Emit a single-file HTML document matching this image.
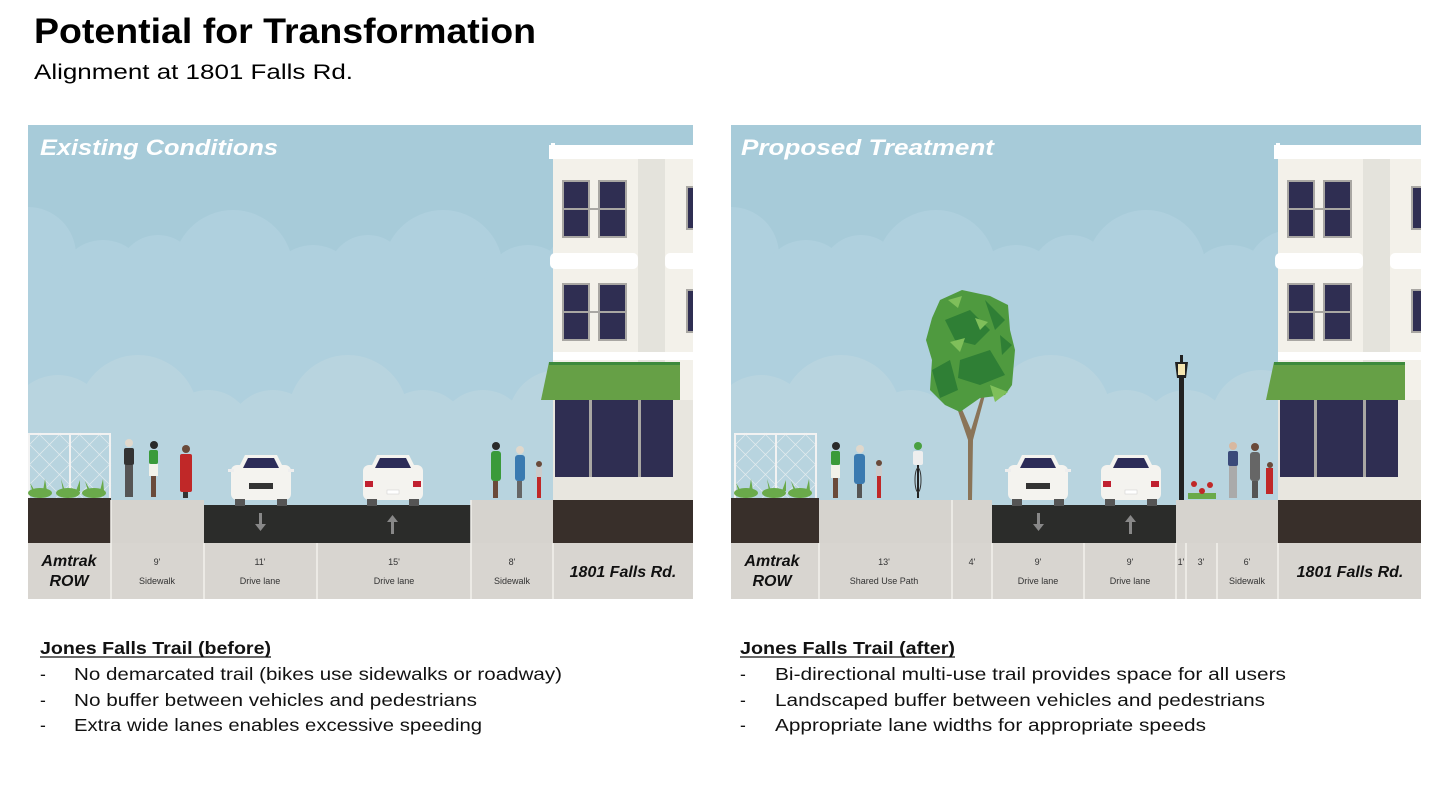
<!DOCTYPE html>
<html><head><meta charset="utf-8"><style>
html,body{margin:0;padding:0;background:#fff;width:1439px;height:802px;overflow:hidden;font-family:"Liberation Sans",sans-serif}
</style></head><body>
<svg width="1439" height="802" viewBox="0 0 1439 802" xmlns="http://www.w3.org/2000/svg" font-family="Liberation Sans, sans-serif">
<defs>
<clipPath id="c1"><rect x="28" y="125" width="665" height="474"/></clipPath>
<clipPath id="c2"><rect x="731" y="125" width="690" height="474"/></clipPath>
<g id="sky">
 <rect x="0" y="0" width="700" height="380" fill="#a7cbd9"/>
 <g fill="#afd0de">
  <circle cx="0" cy="130" r="48"/><circle cx="75" cy="160" r="45"/><circle cx="130" cy="150" r="40"/><circle cx="205" cy="145" r="60"/><circle cx="285" cy="165" r="45"/><circle cx="340" cy="150" r="40"/><circle cx="415" cy="145" r="60"/><circle cx="500" cy="165" r="45"/><circle cx="560" cy="150" r="45"/><circle cx="640" cy="150" r="45"/>
  <rect x="0" y="160" width="700" height="220"/>
 </g>
 <g fill="#b8d4df">
  <circle cx="30" cy="300" r="50"/><circle cx="110" cy="290" r="60"/><circle cx="180" cy="310" r="45"/><circle cx="245" cy="310" r="45"/><circle cx="320" cy="290" r="60"/><circle cx="395" cy="310" r="45"/><circle cx="455" cy="310" r="45"/><circle cx="530" cy="295" r="50"/>
  <rect x="0" y="305" width="700" height="80"/>
 </g>
</g>
<g id="bldg">
 <rect x="0" y="22" width="150" height="360" fill="#f3f1ea"/>
 <rect x="-4" y="20" width="154" height="14" fill="#fff"/>
 <rect x="-2" y="18" width="4" height="6" fill="#fff"/>
 <rect x="85" y="34" width="27" height="205" fill="#e4e3dc"/>
 <rect x="-3" y="128" width="88" height="16" rx="5" fill="#fff"/>
 <rect x="112" y="128" width="40" height="16" rx="5" fill="#fff"/>
 <rect x="0" y="227" width="150" height="8" fill="#fff"/>
 <g fill="#2f2e52" stroke="#a9a7a3" stroke-width="2">
  <rect x="10" y="56" width="26" height="56"/><rect x="46" y="56" width="27" height="56"/>
  <rect x="10" y="159" width="26" height="56"/><rect x="46" y="159" width="27" height="56"/>
  <rect x="134" y="62" width="10" height="42"/><rect x="134" y="165" width="10" height="42"/>
 </g>
 <g stroke="#a9a7a3" stroke-width="2"><line x1="10" y1="84" x2="73" y2="84"/><line x1="10" y1="187" x2="73" y2="187"/></g>
 <rect x="0" y="275" width="150" height="100" fill="#e8e6df"/>
 <polygon points="-4,237 127,237 127,275 -12,275" fill="#66a046"/>
 <rect x="-4" y="237" width="131" height="3" fill="#3d8a3c"/>
 <rect x="2" y="275" width="118" height="77" fill="#2f2e52"/>
 <rect x="36" y="275" width="3" height="77" fill="#a9a7a3"/><rect x="85" y="275" width="3" height="77" fill="#a9a7a3"/>
</g>
<g id="fence">
 <g stroke="#e8eef0" stroke-width="0.7" opacity="0.9">
  <path d="M0,10 L55,65 M0,30 L35,65 M0,50 L15,65 M10,0 L75,65 M30,0 L83,53 M50,0 L83,33 M70,0 L83,13 M83,10 L28,65 M83,30 L48,65 M83,50 L68,65 M73,0 L8,65 M53,0 L0,53 M33,0 L0,33 M13,0 L0,13"/>
 </g>
 <rect x="0" y="0" width="83" height="2" fill="#f2f2f2"/>
 <rect x="0" y="0" width="2" height="65" fill="#f2f2f2"/><rect x="41" y="0" width="2" height="65" fill="#f2f2f2"/><rect x="81" y="0" width="2" height="65" fill="#f2f2f2"/>
 <g fill="#6aaa4a"><ellipse cx="12" cy="60" rx="12" ry="5"/><ellipse cx="40" cy="60" rx="12" ry="5"/><ellipse cx="66" cy="60" rx="12" ry="5"/>
 <path d="M5,60 l-3,-10 l5,8z M15,58 l2,-12 l2,12z M35,58 l-2,-12 l4,12z M48,58 l4,-11 l0,11z M60,58 l-3,-10 l5,9z M72,58 l3,-12 l1,12z"/></g>
</g>
<g id="carF">
 <rect x="0" y="10" width="60" height="35" rx="6" fill="#f4f3ef"/>
 <path d="M8,12 L14,0 L46,0 L52,12Z" fill="#f4f3ef"/>
 <path d="M12,13 L17,3 L43,3 L48,13Z" fill="#2c2c58"/>
 <rect x="-3" y="14" width="6" height="3" fill="#eee"/><rect x="57" y="14" width="6" height="3" fill="#eee"/>
 <rect x="18" y="28" width="24" height="6" fill="#333"/>
 <rect x="4" y="44" width="10" height="7" fill="#555"/><rect x="46" y="44" width="10" height="7" fill="#555"/>
</g>
<g id="carR">
 <rect x="0" y="10" width="60" height="35" rx="6" fill="#f4f3ef"/>
 <path d="M8,12 L14,0 L46,0 L52,12Z" fill="#f4f3ef"/>
 <path d="M12,13 L17,3 L43,3 L48,13Z" fill="#2c2c58"/>
 <rect x="2" y="26" width="8" height="6" fill="#c02030"/><rect x="50" y="26" width="8" height="6" fill="#c02030"/>
 <rect x="24" y="35" width="12" height="4" fill="#fff" stroke="#ccc" stroke-width="0.5"/>
 <rect x="4" y="44" width="10" height="7" fill="#555"/><rect x="46" y="44" width="10" height="7" fill="#555"/>
</g>
</defs>

<text x="34" y="43" font-size="35" font-weight="bold" fill="#000" textLength="502" lengthAdjust="spacingAndGlyphs">Potential for Transformation</text>
<text x="34" y="79" font-size="21" fill="#000" textLength="319" lengthAdjust="spacingAndGlyphs">Alignment at 1801 Falls Rd.</text>

<!-- PANEL 1 -->
<g clip-path="url(#c1)">
 <use href="#sky" x="28" y="125"/>
 <rect x="28" y="505" width="665" height="40" fill="#b8d4df"/>
 <use href="#bldg" x="553" y="125"/>
 <use href="#fence" x="28" y="433"/>
 <rect x="28" y="498" width="83" height="45" fill="#382f2a"/>
 <rect x="111" y="500" width="93" height="43" fill="#d6d3ce"/>
 <rect x="204" y="505" width="267" height="38" fill="#2b2c2a"/>
 <rect x="471" y="500" width="82" height="43" fill="#d6d3ce"/>
 <rect x="553" y="500" width="140" height="43" fill="#382f2a"/>
 <rect x="28" y="543" width="665" height="56" fill="#d8d5d0"/>
 <g stroke="#f2f0ec" stroke-width="1.5"><line x1="111" y1="500" x2="111" y2="599"/><line x1="204" y1="543" x2="204" y2="599"/><line x1="317" y1="543" x2="317" y2="599"/><line x1="471" y1="500" x2="471" y2="599"/><line x1="553" y1="543" x2="553" y2="599"/></g>
 <g fill="#888"><rect x="259" y="513" width="3" height="13"/><path d="M255,524 h11 l-5.5,7z"/><rect x="391" y="521" width="3" height="13"/><path d="M387,522 h11 l-5.5,-7z"/></g>
 <use href="#carF" x="231" y="455"/>
 <use href="#carR" x="363" y="455"/>
 <g>
  <circle cx="129" cy="443" r="4" fill="#e0d8cc"/><rect x="124" y="448" width="10" height="17" rx="2" fill="#333"/><rect x="125" y="465" width="8" height="32" fill="#555"/>
  <circle cx="154" cy="445" r="4" fill="#2a2a2a"/><rect x="149" y="450" width="9" height="14" rx="2" fill="#3a9a3a"/><rect x="149" y="464" width="9" height="12" fill="#f2f2ea"/><rect x="151" y="476" width="5" height="21" fill="#6a4a3a"/>
  <circle cx="186" cy="449" r="4" fill="#6a4a3a"/><rect x="180" y="454" width="12" height="38" rx="2" fill="#c02828"/><rect x="183" y="492" width="5" height="6" fill="#333"/>
  <circle cx="496" cy="446" r="4" fill="#2a2a2a"/><rect x="491" y="451" width="10" height="30" rx="3" fill="#3a9a3a"/><rect x="493" y="481" width="5" height="17" fill="#6a4a3a"/>
  <circle cx="520" cy="450" r="4" fill="#e0d8cc"/><rect x="515" y="455" width="10" height="26" rx="3" fill="#3a7ab0"/><rect x="517" y="481" width="5" height="17" fill="#666"/>
  <circle cx="539" cy="464" r="3" fill="#6a4a3a"/><rect x="536" y="467" width="6" height="10" fill="#ccc"/><rect x="537" y="477" width="4" height="21" fill="#c02828"/>
 </g>
 <text x="40" y="155" font-size="22" font-weight="bold" font-style="italic" fill="#fff" textLength="238" lengthAdjust="spacingAndGlyphs">Existing Conditions</text>
</g>
<g font-size="16" font-weight="bold" font-style="italic" fill="#111" text-anchor="middle">
 <text x="69" y="566">Amtrak</text><text x="69" y="586">ROW</text>
 <text x="623" y="577">1801 Falls Rd.</text>
</g>
<g font-size="9" fill="#333" text-anchor="middle">
 <text x="157" y="565">9'</text><text x="157" y="584">Sidewalk</text>
 <text x="260" y="565">11'</text><text x="260" y="584">Drive lane</text>
 <text x="394" y="565">15'</text><text x="394" y="584">Drive lane</text>
 <text x="512" y="565">8'</text><text x="512" y="584">Sidewalk</text>
</g>

<!-- PANEL 2 -->
<g clip-path="url(#c2)">
 <use href="#sky" x="731" y="125"/>
 <rect x="731" y="505" width="690" height="40" fill="#b8d4df"/>
 <use href="#bldg" x="1278" y="125"/>
 <use href="#fence" x="734" y="433"/>
 <path d="M968,500 L972,500 L973,440 L985,395 L982,394 L971,430 L958,400 L955,402 L968,440Z" fill="#8a7458"/>
 <g>
  <path d="M940,300 L962,290 L990,296 L1008,305 L1010,330 L1015,350 L1012,385 L1005,395 L980,398 L960,412 L945,405 L930,390 L932,360 L926,340 L932,318Z" fill="#4f9a3f"/>
  <path d="M945,320 L970,310 L990,330 L975,345 L955,340Z M960,360 L990,350 L1005,375 L980,385 L958,378Z M932,370 L950,360 L958,390 L940,398Z M985,300 L1005,320 L995,330Z M1000,335 L1012,345 L1002,355Z" fill="#2f7f35"/>
  <path d="M948,300 L962,296 L958,308Z M990,385 L1008,392 L995,402Z M950,342 L965,338 L960,352Z M975,318 L988,322 L980,330Z" fill="#7fbf5a"/>
 </g>
 <rect x="819" y="500" width="133" height="43" fill="#d6d3ce"/>
 <rect x="952" y="500" width="40" height="43" fill="#d6d3ce"/>
 <rect x="731" y="498" width="88" height="45" fill="#382f2a"/>
 <rect x="992" y="505" width="184" height="38" fill="#2b2c2a"/>
 <rect x="1176" y="500" width="102" height="43" fill="#d6d3ce"/>
 <rect x="1278" y="500" width="143" height="43" fill="#382f2a"/>
 <rect x="731" y="543" width="690" height="56" fill="#d8d5d0"/>
 <g stroke="#f2f0ec" stroke-width="1.5"><line x1="819" y1="543" x2="819" y2="599"/><line x1="952" y1="500" x2="952" y2="599"/><line x1="992" y1="543" x2="992" y2="599"/><line x1="1084" y1="543" x2="1084" y2="599"/><line x1="1176" y1="543" x2="1176" y2="599"/><line x1="1186" y1="543" x2="1186" y2="599"/><line x1="1217" y1="543" x2="1217" y2="599"/><line x1="1278" y1="543" x2="1278" y2="599"/></g>
 <g fill="#888"><rect x="1037" y="513" width="3" height="13"/><path d="M1033,524 h11 l-5.5,7z"/><rect x="1129" y="521" width="3" height="13"/><path d="M1125,522 h11 l-5.5,-7z"/></g>
 <use href="#carF" x="1008" y="455"/>
 <use href="#carR" x="1101" y="455"/>
 <rect x="1179" y="375" width="5" height="125" fill="#222"/>
 <path d="M1175,362 L1188,362 L1186,378 L1177,378Z" fill="#222"/><rect x="1178" y="364" width="7" height="11" fill="#f5e6b0"/>
 <rect x="1180" y="355" width="3" height="7" fill="#222"/>
 <g><rect x="1188" y="493" width="28" height="6" fill="#6aaa4a"/><circle cx="1194" cy="484" r="3" fill="#c02828"/><circle cx="1210" cy="485" r="3" fill="#c02828"/><circle cx="1202" cy="491" r="3" fill="#c02828"/></g>
 <g>
  <circle cx="836" cy="446" r="4" fill="#2a2a2a"/><rect x="831" y="451" width="9" height="14" rx="2" fill="#3a9a3a"/><rect x="831" y="465" width="9" height="13" fill="#f2f2ea"/><rect x="833" y="478" width="5" height="20" fill="#6a4a3a"/>
  <circle cx="860" cy="449" r="4" fill="#e0d8cc"/><rect x="854" y="454" width="11" height="30" rx="3" fill="#3a7ab0"/><rect x="857" y="484" width="5" height="14" fill="#555"/>
  <circle cx="879" cy="463" r="3" fill="#6a4a3a"/><rect x="876" y="466" width="6" height="10" fill="#ccc"/><rect x="877" y="476" width="4" height="22" fill="#c02828"/>
  <circle cx="918" cy="446" r="4" fill="#4aa040"/><rect x="913" y="451" width="10" height="14" rx="2" fill="#eee"/><rect x="917" y="465" width="2" height="33" fill="#222"/><ellipse cx="918" cy="480" rx="3" ry="12" fill="none" stroke="#333"/>
  <circle cx="1233" cy="446" r="4" fill="#d8b8a0"/><rect x="1228" y="451" width="10" height="15" rx="2" fill="#3a4a7a"/><rect x="1229" y="466" width="8" height="32" fill="#aaa"/>
  <circle cx="1255" cy="447" r="4" fill="#6a4a3a"/><rect x="1250" y="452" width="10" height="29" rx="3" fill="#666"/><rect x="1252" y="481" width="6" height="17" fill="#555"/>
  <circle cx="1270" cy="465" r="3" fill="#6a4a3a"/><rect x="1266" y="468" width="7" height="26" fill="#c02828"/>
 </g>
 <text x="741" y="155" font-size="22" font-weight="bold" font-style="italic" fill="#fff" textLength="253" lengthAdjust="spacingAndGlyphs">Proposed Treatment</text>
</g>
<g font-size="16" font-weight="bold" font-style="italic" fill="#111" text-anchor="middle">
 <text x="772" y="566">Amtrak</text><text x="772" y="586">ROW</text>
 <text x="1350" y="577">1801 Falls Rd.</text>
</g>
<g font-size="9" fill="#333" text-anchor="middle">
 <text x="884" y="565">13'</text><text x="884" y="584">Shared Use Path</text>
 <text x="972" y="565">4'</text>
 <text x="1038" y="565">9'</text><text x="1038" y="584">Drive lane</text>
 <text x="1130" y="565">9'</text><text x="1130" y="584">Drive lane</text>
 <text x="1181" y="565">1'</text><text x="1201" y="565">3'</text>
 <text x="1247" y="565">6'</text><text x="1247" y="584">Sidewalk</text>
</g>

<g font-size="17.5" fill="#111" lengthAdjust="spacingAndGlyphs">
 <text x="40" y="654" font-weight="bold" textLength="231" lengthAdjust="spacingAndGlyphs">Jones Falls Trail (before)</text>
 <line x1="40" y1="657" x2="271" y2="657" stroke="#111" stroke-width="1.3"/>
 <text x="40" y="680">-</text><text x="74" y="680" textLength="488" lengthAdjust="spacingAndGlyphs">No demarcated trail (bikes use sidewalks or roadway)</text>
 <text x="40" y="706">-</text><text x="74" y="706" textLength="403" lengthAdjust="spacingAndGlyphs">No buffer between vehicles and pedestrians</text>
 <text x="40" y="731">-</text><text x="74" y="731" textLength="408" lengthAdjust="spacingAndGlyphs">Extra wide lanes enables excessive speeding</text>
 <text x="740" y="654" font-weight="bold" textLength="215" lengthAdjust="spacingAndGlyphs">Jones Falls Trail (after)</text>
 <line x1="740" y1="657" x2="955" y2="657" stroke="#111" stroke-width="1.3"/>
 <text x="740" y="680">-</text><text x="775" y="680" textLength="511" lengthAdjust="spacingAndGlyphs">Bi-directional multi-use trail provides space for all users</text>
 <text x="740" y="706">-</text><text x="775" y="706" textLength="490" lengthAdjust="spacingAndGlyphs">Landscaped buffer between vehicles and pedestrians</text>
 <text x="740" y="731">-</text><text x="775" y="731" textLength="431" lengthAdjust="spacingAndGlyphs">Appropriate lane widths for appropriate speeds</text>
</g>
</svg>
</body></html>
